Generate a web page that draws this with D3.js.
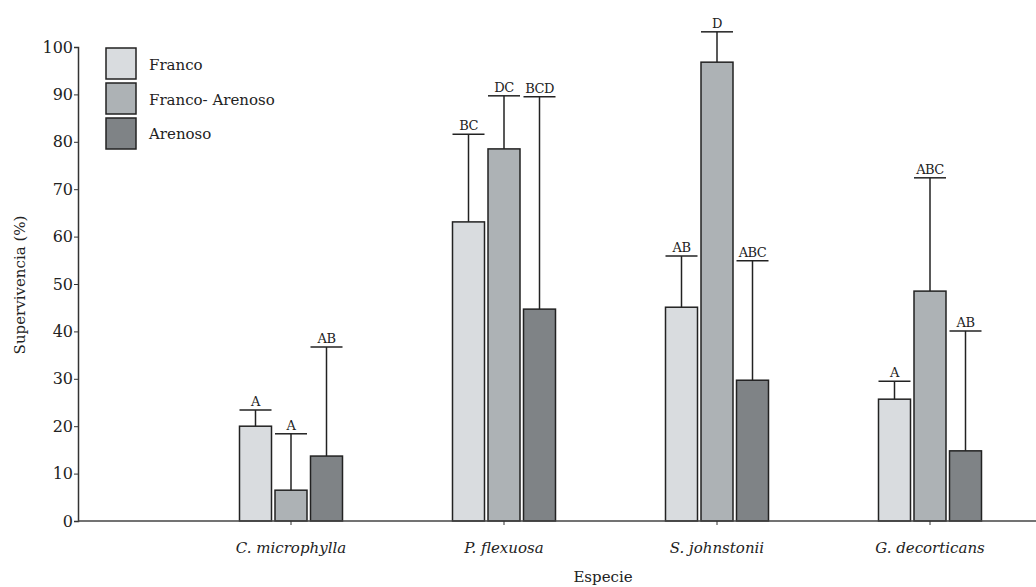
<!DOCTYPE html>
<html>
<head>
<meta charset="utf-8">
<script src="https://cdn.jsdelivr.net/npm/d3@7"></script>
<style>
  body { margin: 0; background: #fff; }
  svg text { font-family: "DejaVu Serif", serif; fill: #222; }
</style>
</head>
<body>
<script>
(function() {
    'use strict';

    // datos
    var especies = ["C. microphylla", "P. flexuosa", "S. johnstonii", "G. decorticans"];
    var suelos = ["Franco", "Franco- Arenoso", "Arenoso"];
    var franco = [20.0, 63.1, 45.1, 25.7];
    var francoArenoso = [6.5, 78.5, 96.8, 48.5];
    var arenoso = [13.7, 44.7, 29.7, 14.8];
    var francoErr = [23.4, 81.6, 55.9, 29.5];
    var francoArenosoErr = [18.4, 89.7, 103.2, 72.4];
    var arenosoErr = [36.7, 89.5, 54.9, 40.1];
    var francoLetras = ["A", "BC", "AB", "A"];
    var francoArenosoLetras = ["A", "DC", "D", "ABC"];
    var arenosoLetras = ["AB", "BCD", "ABC", "AB"];
    var yTicks = [0, 10, 20, 30, 40, 50, 60, 70, 80, 90, 100];

    var colores = ["#d9dcdf", "#adb2b5", "#7f8386"];
    var series = [
        {valores: franco, err: francoErr, letras: francoLetras},
        {valores: francoArenoso, err: francoArenosoErr, letras: francoArenosoLetras},
        {valores: arenoso, err: arenosoErr, letras: arenosoLetras}
    ];

    var w = 1036;
    var h = 587;
    var left = 78, bottom = 521;
    var fuente = "DejaVu Serif";

    var svg = d3.select("body")
                .append("svg")
                .attr("width", w)
                .attr("height", h)
                .attr("font-family", fuente);

    var x = d3.scalePoint()
              .domain([""].concat(especies))
              .range([left, left + 4 * 213]);
    var y = d3.scaleLinear()
              .domain([0, 100])
              .range([bottom, 47]);

    var bw = 32, step = 35.5;

    // barras
    series.forEach(function(s, k) {
        var g = svg.append("g");
        var off = (k - 1) * step;
        especies.forEach(function(e, i) {
            var cx = x(e) + off;
            g.append("line")
             .attr("x1", cx).attr("x2", cx)
             .attr("y1", y(s.valores[i])).attr("y2", y(s.err[i]))
             .attr("stroke", "#222").attr("stroke-width", 1.5);
            g.append("line")
             .attr("x1", cx - 16).attr("x2", cx + 16)
             .attr("y1", y(s.err[i])).attr("y2", y(s.err[i]))
             .attr("stroke", "#222").attr("stroke-width", 1.5);
            g.append("rect")
             .attr("x", cx - bw / 2)
             .attr("y", y(s.valores[i]))
             .attr("width", bw)
             .attr("height", y(0) - y(s.valores[i]))
             .attr("fill", colores[k])
             .attr("stroke", "#222")
             .attr("stroke-width", 1.5);
            g.append("text")
             .attr("x", cx)
             .attr("y", y(s.err[i]) - 4)
             .attr("text-anchor", "middle")
             .attr("font-size", 13)
             .attr("letter-spacing", -0.5)
             .text(s.letras[i]);
        });
    });

    // ejes
    var yAxis = d3.axisLeft(y).tickValues(yTicks).tickSize(4).tickPadding(1);
    var gy = svg.append("g")
                .attr("transform", "translate(" + left + ",0)")
                .call(yAxis);
    gy.attr("font-family", fuente);
    gy.select(".domain").attr("stroke", "#333").attr("stroke-width", 1.5);
    gy.selectAll(".tick line").attr("stroke", "#333");
    gy.selectAll("text").attr("font-size", 16).attr("fill", "#222");

    svg.append("line")
       .attr("x1", left).attr("x2", w)
       .attr("y1", bottom).attr("y2", bottom)
       .attr("stroke", "#444").attr("stroke-width", 1.5);

    var gx = svg.append("g");
    especies.forEach(function(e) {
        gx.append("line")
          .attr("x1", x(e)).attr("x2", x(e))
          .attr("y1", bottom).attr("y2", bottom + 4)
          .attr("stroke", "#333");
        gx.append("text")
          .attr("x", x(e))
          .attr("y", 553)
          .attr("text-anchor", "middle")
          .attr("font-size", 15)
          .attr("font-style", "italic")
          .text(e);
    });

    svg.append("text")
       .attr("x", 603).attr("y", 582)
       .attr("text-anchor", "middle")
       .attr("font-size", 15)
       .text("Especie");

    svg.append("text")
       .attr("transform", "translate(25,285) rotate(-90)")
       .attr("text-anchor", "middle")
       .attr("font-size", 15)
       .text("Supervivencia (%)");

    // leyenda
    var leg = svg.append("g");
    suelos.forEach(function(s, k) {
        leg.append("rect")
           .attr("x", 106).attr("y", 48 + k * 35)
           .attr("width", 30).attr("height", 31)
           .attr("fill", colores[k])
           .attr("stroke", "#222").attr("stroke-width", 1.5);
        leg.append("text")
           .attr("x", 149).attr("y", 70 + k * 34.5)
           .attr("font-size", 15)
           .text(s);
    });
}());
</script>
</body>
</html>
